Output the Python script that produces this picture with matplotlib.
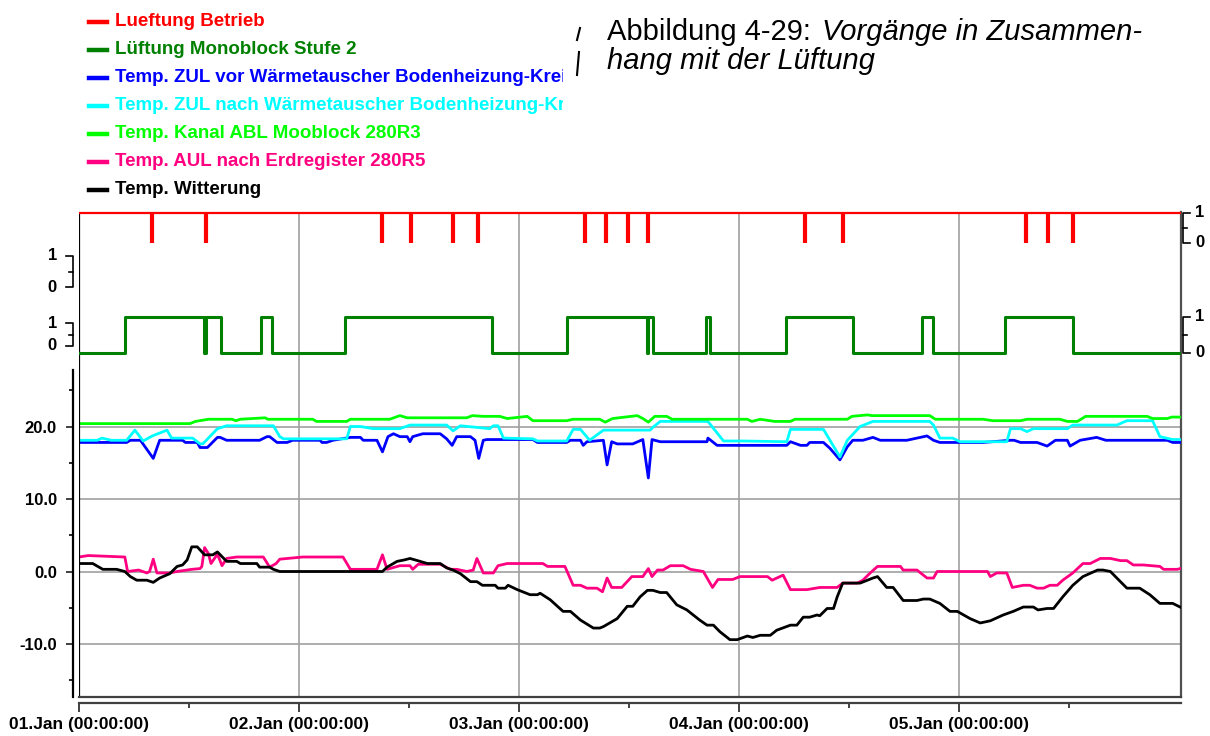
import numpy as np
import matplotlib.pyplot as plt
from matplotlib.lines import Line2D
from matplotlib.patches import Rectangle
from matplotlib.transforms import blended_transform_factory
from matplotlib.ticker import FixedLocator

plt.rcParams['font.family'] = ['Liberation Sans', 'DejaVu Sans']

W, H = 1210, 736

# ---- data, time in hours from 01.Jan 00:00 ----
t_end = 120.2
day_ticks = [0, 24, 48, 72, 96]
half_day_ticks = [12, 36, 60, 84, 108]
day_labels = ['01.Jan (00:00:00)', '02.Jan (00:00:00)', '03.Jan (00:00:00)',
              '04.Jan (00:00:00)', '05.Jan (00:00:00)']
temp_ticks = [-10, 0, 10, 20]
temp_minor = [-15, -5, 5, 15, 25]

legend_labels = ['Lueftung Betrieb', 'Lüftung Monoblock Stufe 2',
                 'Temp. ZUL vor Wärmetauscher Bodenheizung-Kreis',
                 'Temp. ZUL nach Wärmetauscher Bodenheizung-Kreis',
                 'Temp. Kanal ABL Mooblock 280R3',
                 'Temp. AUL nach Erdregister 280R5', 'Temp. Witterung']
legend_colors = ['#ff0000', '#008000', '#0000ff', '#00ffff', '#00ff00',
                 '#ff0080', '#000000']

# Lueftung Betrieb: short drops from 1 to 0
betrieb_off = [8.0, 13.9, 33.1, 36.2, 40.8, 43.5, 55.2, 57.5, 59.9, 62.1,
               79.2, 83.3, 103.3, 105.7, 108.4]

# Monoblock Stufe 2 (switch times, state after switch)
stufe2_t = [0, 5.0, 13.6, 13.8, 15.5, 19.9, 21.1, 29.0, 45.1, 53.2, 61.9,
            62.1, 62.6, 68.4, 68.8, 77.1, 84.4, 92.0, 93.1, 101.0, 108.4, 120.2]
stufe2_v = [0, 1, 0, 1, 0, 1, 0, 1, 0, 1, 0, 1, 0, 1, 0, 1, 0, 1, 0, 1, 0, 0]

zul_vor = [(0, 17.8), (5.2, 17.8), (5.6, 18.1), (6.7, 18.1), (8.1, 15.6), (8.8, 18.1),
           (11.3, 18.1), (11.6, 17.8), (12.9, 17.8), (13.2, 17.1), (14.0, 17.1),
           (15.1, 18.5), (15.4, 18.5), (16.1, 18.1), (19.7, 18.1), (20.5, 18.6),
           (20.8, 18.6), (21.6, 17.8), (22.7, 17.8), (23.3, 18.1), (26.3, 18.1),
           (26.5, 17.8), (27.0, 17.8), (27.7, 18.1), (29.6, 18.5), (30.7, 18.5),
           (31.0, 18.1), (32.5, 18.1), (33.1, 16.5), (33.7, 18.6), (34.3, 19.0),
           (35.0, 18.6), (35.8, 18.6), (36.1, 17.9), (36.4, 18.6), (37.5, 19.0),
           (39.4, 19.0), (40.1, 18.3), (40.7, 17.4), (41.2, 18.6), (42.7, 18.6),
           (43.2, 18.1), (43.6, 15.6), (44.1, 18.1), (44.5, 18.2), (49.5, 18.2),
           (50.0, 17.8), (53.2, 17.8), (53.6, 18.1), (54.7, 18.1), (55.0, 17.4),
           (55.4, 17.9), (57.2, 18.1), (57.6, 14.7), (58.1, 17.9), (58.7, 17.6),
           (60.4, 17.6), (61.5, 18.2), (62.1, 12.9), (62.5, 18.2), (63.4, 17.9),
           (68.5, 17.9), (68.6, 18.4), (69.6, 17.4), (77.2, 17.4), (77.6, 17.9),
           (78.7, 17.4), (79.4, 17.4), (79.7, 17.8), (81.2, 17.8), (81.9, 17.0),
           (83.0, 15.4), (83.8, 17.2), (84.4, 18.1), (85.5, 18.1), (86.6, 18.5),
           (87.4, 18.1), (90.3, 18.1), (92.5, 18.7), (93.2, 18.1), (93.9, 17.8),
           (98.6, 17.8), (101.6, 18.1), (102.0, 18.1), (102.7, 17.8), (104.5, 17.8),
           (105.6, 17.3), (106.5, 18.1), (107.8, 18.1), (108.1, 17.3), (109.2, 18.1),
           (111.0, 18.5), (112.0, 18.1), (118.7, 18.1), (119.3, 17.8), (120.1, 17.8)]

zul_nach = [(0, 18.1), (2.0, 18.1), (2.5, 18.4), (3.5, 18.1), (5.2, 18.1), (6.1, 19.5),
            (7.0, 18.0), (8.0, 18.7), (9.6, 19.5), (10.1, 18.4), (12.4, 18.4),
            (13.2, 17.6), (13.5, 17.6), (15.1, 19.7), (16.1, 20.1), (21.2, 20.1),
            (21.9, 18.6), (22.3, 18.3), (29.2, 18.3), (29.6, 20.0), (30.7, 20.0),
            (32.1, 19.7), (35.0, 19.7), (36.1, 20.2), (40.1, 20.2), (40.8, 19.4),
            (41.6, 20.1), (44.8, 19.7), (45.2, 20.1), (45.7, 20.1), (46.3, 18.4),
            (49.5, 18.3), (50.0, 18.0), (53.2, 18.0), (53.9, 19.6), (54.7, 19.6),
            (55.7, 18.1), (57.2, 19.5), (62.3, 19.5), (62.6, 19.9), (63.4, 20.7),
            (68.6, 20.7), (70.3, 18.0), (72.4, 18.0), (77.2, 17.9), (77.6, 19.6),
            (81.2, 19.6), (83.0, 15.8), (83.8, 18.1), (85.2, 20.0), (86.6, 20.7),
            (92.8, 20.7), (93.2, 20.2), (93.9, 18.4), (95.3, 18.4), (96.1, 17.9),
            (101.2, 17.9), (101.6, 19.7), (102.7, 19.7), (103.4, 19.3), (104.1, 19.7),
            (107.8, 19.7), (108.4, 20.2), (113.2, 20.2), (114.3, 20.8), (117.1, 20.8),
            (117.9, 18.6), (119.3, 18.2), (120.1, 18.2)]

kanal_abl = [(0, 20.4), (12.1, 20.4), (12.7, 20.7), (14.1, 21.0), (16.7, 21.0),
             (17.1, 20.8), (17.6, 21.0), (20.3, 21.2), (20.6, 21.0), (25.5, 21.0),
             (25.9, 20.7), (29.2, 20.7), (29.6, 21.0), (33.9, 21.0), (35.0, 21.5),
             (35.8, 21.2), (42.3, 21.2), (42.9, 21.5), (44.1, 21.4), (45.9, 21.4),
             (46.7, 21.1), (48.9, 21.4), (49.5, 20.8), (53.2, 20.8), (53.9, 21.0),
             (56.8, 21.0), (57.4, 20.6), (58.2, 21.1), (60.9, 21.5), (61.5, 21.1),
             (62.1, 20.6), (62.8, 21.4), (64.1, 21.4), (64.7, 21.0), (72.9, 21.0),
             (73.4, 20.7), (74.3, 21.0), (75.9, 20.7), (77.6, 20.7), (78.1, 21.0),
             (83.8, 21.0), (84.3, 21.4), (86.0, 21.6), (86.5, 21.5), (92.8, 21.5),
             (93.4, 21.0), (98.6, 21.0), (99.7, 20.8), (102.7, 20.8), (103.4, 21.0),
             (107.0, 21.0), (107.8, 20.7), (108.9, 20.7), (109.8, 21.4), (116.5, 21.4),
             (117.1, 21.1), (118.7, 21.1), (119.2, 21.3), (120.1, 21.3)]

aul = [(0, 2.0), (1.0, 2.2), (3.0, 2.1), (5.0, 2.0), (5.3, 0.0), (6.5, 0.2), (7.4, -0.2),
       (7.7, 0.0), (8.1, 1.7), (8.5, -0.2), (9.9, -0.2), (10.7, 0.0), (12.3, 0.3),
       (13.2, 0.4), (13.4, 0.7), (13.7, 3.3), (14.1, 2.5), (14.4, 1.1), (15.1, 2.4),
       (15.6, 0.8), (16.1, 1.8), (17.2, 2.0), (20.1, 2.0), (20.8, 0.6), (21.5, 1.1),
       (21.9, 1.7), (24.4, 2.0), (28.8, 2.0), (29.6, 0.3), (32.5, 0.3), (33.1, 2.3),
       (33.6, 0.3), (35.0, 0.8), (36.1, 0.8), (36.4, 0.3), (37.0, 1.0), (39.4, 1.0),
       (40.5, 0.3), (41.2, 0.3), (42.3, 0.0), (43.0, 0.2), (43.4, 1.8), (44.1, -0.2),
       (45.2, -0.2), (45.7, 0.8), (46.7, 1.1), (50.6, 1.1), (51.1, 0.7), (53.0, 0.7),
       (53.9, -1.9), (54.7, -1.9), (55.4, -2.3), (56.5, -2.3), (57.1, -2.8),
       (57.6, -0.9), (58.1, -2.2), (59.2, -2.2), (60.3, -0.7), (61.5, -0.7), (62.1, 0.4),
       (62.5, -0.7), (63.1, 0.2), (63.7, 0.2), (64.5, 0.8), (65.9, 0.8), (66.7, 0.3),
       (68.1, 0.0), (69.1, -2.2), (69.7, -1.1), (71.3, -1.1), (72.1, -0.7), (75.1, -0.7),
       (75.6, -1.2), (76.8, -0.5), (77.6, -2.5), (79.4, -2.5), (80.8, -2.2), (82.7, -2.2),
       (83.3, -1.6), (84.9, -1.6), (85.5, -1.2), (86.3, -0.2), (87.1, 0.7), (89.6, 0.7),
       (89.9, 0.2), (91.4, 0.2), (92.5, -0.9), (93.2, -0.9), (93.6, 0.0), (99.1, 0.0),
       (99.4, -0.7), (100.1, -0.2), (101.2, -0.2), (101.8, -2.2), (103.0, -1.9),
       (103.7, -1.9), (104.5, -2.3), (105.2, -2.3), (105.9, -1.9), (106.7, -1.9),
       (107.3, -1.2), (108.4, -0.2), (109.5, 1.1), (110.3, 1.1), (111.4, 1.8),
       (112.5, 1.8), (113.6, 1.5), (114.3, 1.5), (115.0, 0.9), (116.1, 0.9),
       (117.9, 0.7), (118.3, 0.3), (119.8, 0.3), (120.1, 0.4)]

witterung = [(0, 1.1), (1.5, 1.1), (2.6, 0.3), (4.1, 0.3), (5.0, 0.0), (5.6, -0.7),
             (6.3, -1.2), (7.4, -1.2), (8.1, -1.5), (8.8, -0.9), (9.9, -0.3), (10.7, 0.7),
             (11.3, 0.9), (11.8, 1.6), (12.3, 3.4), (12.9, 3.4), (13.7, 2.3), (14.6, 2.3),
             (15.1, 2.7), (16.1, 1.4), (17.2, 1.4), (17.6, 1.1), (19.4, 1.1), (19.7, 0.6),
             (20.8, 0.6), (21.2, 0.3), (21.9, 0.0), (33.1, 0.0), (33.6, 0.6), (34.7, 1.4),
             (35.5, 1.6), (36.1, 1.8), (37.2, 1.4), (38.0, 1.1), (39.4, 1.1), (40.1, 0.5),
             (40.8, 0.2), (41.6, -0.3), (42.7, -1.4), (43.4, -1.4), (44.0, -1.9),
             (45.4, -1.9), (45.7, -2.3), (46.5, -2.3), (46.8, -1.9), (47.8, -2.5),
             (49.2, -3.2), (50.0, -3.2), (50.3, -3.0), (51.4, -3.9), (52.8, -5.5),
             (53.6, -5.5), (54.7, -6.7), (56.1, -7.8), (56.8, -7.8), (57.2, -7.6),
             (58.7, -6.5), (59.8, -4.8), (60.4, -4.8), (61.2, -3.5), (62.0, -2.6),
             (62.6, -2.6), (63.4, -2.9), (64.1, -2.9), (65.2, -4.6), (66.3, -5.3),
             (67.7, -6.7), (68.5, -7.4), (69.2, -7.4), (69.9, -8.3), (71.0, -9.4),
             (71.8, -9.4), (72.9, -8.9), (73.5, -9.1), (74.3, -8.8), (75.4, -8.8),
             (76.1, -8.1), (77.6, -7.4), (78.3, -7.4), (79.0, -6.3), (79.7, -6.3),
             (80.5, -6.0), (80.8, -6.1), (81.6, -5.1), (82.3, -5.1), (82.7, -3.5),
             (83.3, -1.6), (85.2, -1.6), (86.6, -0.9), (87.1, -0.7), (88.1, -2.2),
             (88.8, -2.2), (89.9, -4.0), (91.4, -4.0), (92.1, -3.8), (92.8, -3.8),
             (93.9, -4.4), (95.0, -5.5), (95.8, -5.5), (97.2, -6.5), (98.3, -7.1),
             (99.4, -6.8), (100.8, -6.0), (101.9, -5.5), (103.0, -4.9), (104.1, -4.9),
             (104.6, -5.3), (105.6, -5.1), (106.3, -5.1), (107.3, -3.5), (108.4, -1.9),
             (109.5, -0.7), (111.1, 0.2), (111.7, 0.2), (112.5, 0.0), (113.2, -0.9),
             (114.3, -2.3), (115.7, -2.3), (116.8, -3.2), (117.9, -4.4), (119.3, -4.4),
             (120.1, -4.9)]

# ---- layout (pixels of the 1210x736 picture) ----
px_left, px_right, px_top, px_bottom = 79, 1181, 212, 697


def fx(px):
    return px / W


def fy(py):
    return 1 - py / H


fig = plt.figure(figsize=(W / 100, H / 100), dpi=100)
rect = [fx(px_left), fy(px_bottom), (px_right - px_left) / W, (px_bottom - px_top) / H]
ax = fig.add_axes(rect)
ax.set_xlim(0, t_end)
# 0 degC at y=571.5 px, 10 K per 72.5 px
ax.set_ylim((571.5 - px_bottom) / 7.25, (571.5 - px_top) / 7.25)

# temperature curves
temp_series = [(zul_vor, legend_colors[2]), (zul_nach, legend_colors[3]),
               (kanal_abl, legend_colors[4]), (aul, legend_colors[5]),
               (witterung, legend_colors[6])]
for series, col in temp_series:
    t, v = np.array(series).T
    ax.plot(t, v, color=col, lw=2.0, zorder=3)

# frame / axes styling
ax.spines['top'].set_visible(False)
ax.spines['right'].set_color('#505050')
ax.spines['right'].set_linewidth(1.6)
ax.spines['left'].set_position(('outward', 4))
ax.spines['left'].set_bounds(ax.get_ylim()[0], (571.5 - 370) / 7.25)
ax.spines['left'].set_linewidth(1.6)
ax.spines['bottom'].set_position(('outward', 4))
ax.spines['bottom'].set_color('#404040')
ax.spines['bottom'].set_linewidth(1.6)
ax.axvline(0, color='black', lw=1.6, zorder=4)
ax.axhline(ax.get_ylim()[0], color='#404040', lw=1.6, clip_on=False, zorder=4)

ax.set_xticks(day_ticks, day_labels)
ax.xaxis.set_minor_locator(FixedLocator(half_day_ticks))
ax.set_yticks(temp_ticks, [f'{v:.1f}' for v in temp_ticks])
ax.yaxis.set_minor_locator(FixedLocator(temp_minor))
ax.tick_params(axis='both', which='major', width=1.2, color='#202020')
ax.tick_params(axis='x', which='major', length=6.5, pad=4, labelsize=12.5)
ax.tick_params(axis='x', which='minor', length=3.6, width=1.2, color='#202020')
ax.tick_params(axis='y', which='major', length=5, pad=7, labelsize=12)
ax.tick_params(axis='y', which='minor', length=3, width=1.2)
for lab in ax.get_xticklabels() + ax.get_yticklabels():
    lab.set_fontweight('bold')
ax.grid(True, which='major', color='#a0a0a0', lw=1.2, zorder=1)


def overlay(y1_px, y0_px):
    """transparent axes over the plot where value 1/0 sit at the given pixel rows"""
    a = fig.add_axes(rect, sharex=ax)
    f1 = (px_bottom - y1_px) / (px_bottom - px_top)
    f0 = (px_bottom - y0_px) / (px_bottom - px_top)
    span = 1 / (f1 - f0)
    a.set_ylim(-f0 * span, -f0 * span + span)
    a.axis('off')
    return a


def bracket(a, side):
    tr = blended_transform_factory(a.transAxes, a.transData)
    wpx = px_right - px_left
    if side == 'left':
        xv, xt, xm, xl, ha = -6 / wpx, -13 / wpx, -10 / wpx, -22 / wpx, 'right'
    else:
        xv, xt, xm, xl, ha = 1 + 2 / wpx, 1 + 9 / wpx, 1 + 6 / wpx, 1 + 14 / wpx, 'left'
    a.plot([xt, xv, xv, xt], [1, 1, 0, 0], color='black', lw=1.2,
           transform=tr, clip_on=False)
    a.plot([xm, xv], [0.5, 0.5], color='black', lw=1.2, transform=tr, clip_on=False)
    for val in (1, 0):
        a.text(xl, val, str(val), transform=tr, ha=ha, va='center',
               fontsize=12, fontweight='bold')


ax_red = overlay(212.5, 242.5)
ax_red.hlines(1, 0, t_end, color=legend_colors[0], lw=1.6, clip_on=False)
ax_red.vlines(betrieb_off, 0, 1, color=legend_colors[0], lw=3, clip_on=False)
bracket(ax_red, 'right')

ax_grn = overlay(316.5, 352.5)
ax_grn.step(stufe2_t, stufe2_v, where='post', color=legend_colors[1], lw=2.2)
bracket(ax_grn, 'right')

bracket(overlay(256, 287), 'left')
bracket(overlay(323, 346), 'left')

# legend above the plot
for i, (lab, col) in enumerate(zip(legend_labels, legend_colors)):
    yrow = 22 + 28 * i
    fig.add_artist(Line2D([fx(89), fx(107)], [fy(yrow), fy(yrow)], color=col, lw=3.2))
    fig.text(fx(115), fy(yrow), lab, color=col, fontsize=13.5,
             fontweight='bold', va='center', ha='left', zorder=3)

# white caption box that cuts the legend off
fig.add_artist(Rectangle((fx(563), fy(205)), 1 - fx(563), 205 / H,
                         transform=fig.transFigure, facecolor='white',
                         edgecolor='none', zorder=5))

# caption
fig.text(fx(607), fy(40), 'Abbildung 4-29:', fontsize=21, va='baseline', zorder=6)
fig.text(fx(822), fy(40), 'Vorgänge in Zusammen-', fontsize=21,
         style='italic', va='baseline', zorder=6)
fig.text(fx(607), fy(69), 'hang mit der Lüftung', fontsize=21,
         style='italic', va='baseline', zorder=6)
fig.add_artist(Line2D([fx(577), fx(580)], [fy(40), fy(28)], color='black', lw=1.5, zorder=6))
fig.add_artist(Line2D([fx(577), fx(579)], [fy(75), fy(52)], color='black', lw=1.5, zorder=6))

fig.savefig('out.png', dpi=100, facecolor='white')
